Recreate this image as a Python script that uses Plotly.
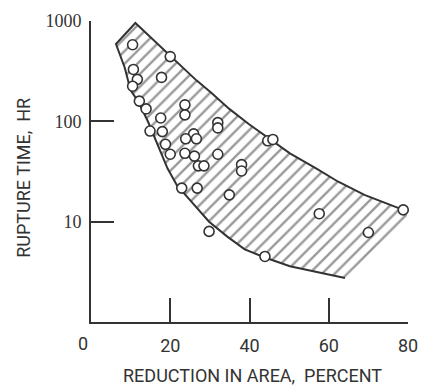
import plotly.graph_objects as go

# Data points: reduction in area (%) vs rupture time (hr)
ra_pct = [10.5, 20.0, 10.7, 17.8, 11.7, 10.5, 12.2, 13.9, 23.7, 23.7, 17.6, 14.9, 18.0,
          18.8, 20.0, 25.9, 23.9, 26.6, 23.7, 26.1, 27.1, 28.5, 22.9, 26.8, 32.0, 32.0,
          32.0, 44.6, 45.9, 38.0, 38.0, 34.9, 29.8, 43.9, 57.6, 70.0, 78.8]
rupture_hr = [580, 442, 329, 274, 262, 224, 159, 133, 146, 116, 108, 80, 79,
              59, 47, 75, 67, 67, 48, 45, 36, 36, 21.6, 21.6, 97, 86,
              47, 64, 66, 37, 32, 18.5, 8.0, 4.5, 12, 7.8, 13.1]

# Scatter band envelope
upper_x = [6.3, 11.2, 20.0, 26.6, 30.2, 34.9, 39.8, 44.9, 50.2, 56.8, 62.4, 69.0, 74.6, 78.8]
upper_y = [590, 955, 452, 256, 195, 133, 94, 67, 48, 34, 25, 18.5, 15.3, 13.1]
lower_x = [6.3, 8.5, 10.0, 12.0, 14.4, 16.8, 19.3, 21.7, 24.1, 29.8, 34.4, 38.8, 43.9, 50.2, 56.8, 64.1]
lower_y = [590, 344, 204, 156, 99, 59, 34, 23, 18, 10, 7.1, 5.3, 4.4, 3.6, 3.15, 2.74]
corner_x = [80.2]
corner_y = [10.9]

x_ticks = [20, 40, 60, 80]
x_labels = ["20", "40", "60", "80"]
origin_label = "0"
y_ticks = [10, 100, 1000]
y_labels = ["10", "100", "1000"]

INK = "#333333"
TXT = "#333333"
SANS = "Liberation Sans Narrow, Arial Narrow, Roboto, sans-serif"
SERIF = "Liberation Serif, DejaVu Serif, serif"

fig = go.Figure()

# hatched band
poly_x = upper_x + corner_x + lower_x[::-1]
poly_y = upper_y + corner_y + lower_y[::-1]
fig.add_trace(go.Scatter(
    x=poly_x, y=poly_y, mode="lines", fill="toself",
    line=dict(width=0, color="rgba(0,0,0,0)"),
    fillcolor="rgba(255,255,255,0)",
    fillpattern=dict(shape="/", size=9, solidity=0.26, fgcolor="#333333",
                     bgcolor="rgba(255,255,255,0)"),
    hoverinfo="skip", showlegend=False, cliponaxis=False))

# outline (lower curve, top edge, upper curve)
out_x = lower_x[::-1] + upper_x
out_y = lower_y[::-1] + upper_y
fig.add_trace(go.Scatter(
    x=out_x, y=out_y, mode="lines", line=dict(color=INK, width=2),
    hoverinfo="skip", showlegend=False, cliponaxis=False))

# data points
fig.add_trace(go.Scatter(
    x=ra_pct, y=rupture_hr, mode="markers",
    marker=dict(symbol="circle", size=10, color="white",
                line=dict(color=INK, width=1.6)),
    showlegend=False, cliponaxis=False))

fig.update_xaxes(
    range=[0, 80], showline=True, linecolor=INK, linewidth=2,
    showgrid=False, zeroline=False,
    tickmode="array", tickvals=x_ticks, ticktext=x_labels,
    ticks="inside", ticklen=24, tickwidth=1.5, tickcolor=INK,
    tickfont=dict(family=SANS, size=18, color=TXT),
    ticklabelstandoff=6)
fig.update_yaxes(
    type="log", range=[0, 3], showline=True, linecolor=INK, linewidth=2,
    showgrid=False, zeroline=False,
    tickmode="array", tickvals=y_ticks, ticktext=y_labels,
    ticks="inside", ticklen=23, tickwidth=1.5, tickcolor=INK,
    tickfont=dict(family=SERIF, size=18, color=TXT),
    ticklabelstandoff=4)

fig.add_annotation(x=0, y=0, xref="x", yref="paper", text=origin_label,
                   showarrow=False, xanchor="center", yanchor="middle",
                   xshift=-8, yshift=-21.5,
                   font=dict(family=SANS, size=18, color=TXT))
fig.add_annotation(x=0.5, y=0, xref="paper", yref="paper",
                   text="REDUCTION IN AREA,\u00a0 PERCENT",
                   showarrow=False, xanchor="center", yanchor="middle",
                   xshift=3, yshift=-53.5,
                   font=dict(family=SANS, size=18, color=TXT))
fig.add_annotation(x=0, y=0.479, xref="paper", yref="paper",
                   text="RUPTURE TIME,\u00a0 HR", textangle=-90,
                   showarrow=False, xanchor="center", yanchor="middle",
                   xshift=-67,
                   font=dict(family=SANS, size=18, color=TXT))

fig.update_layout(
    width=429, height=388,
    margin=dict(l=91, r=11, t=18, b=66),
    paper_bgcolor="white", plot_bgcolor="white",
    showlegend=False)

fig.write_html("out.html")
